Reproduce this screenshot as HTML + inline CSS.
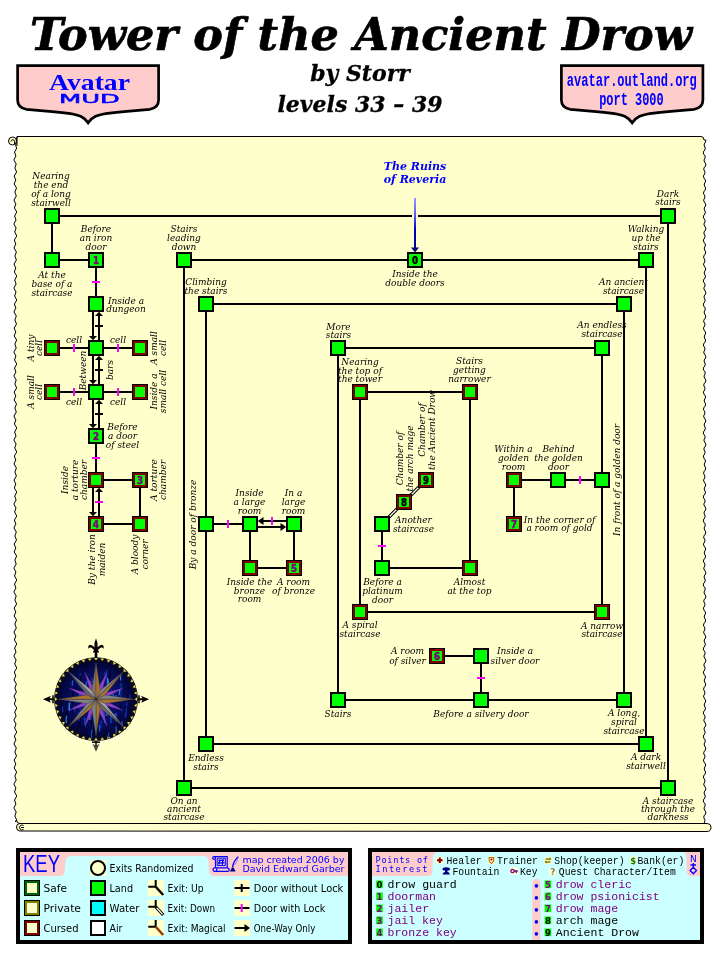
<!DOCTYPE html>
<html lang="en"><head><meta charset="utf-8"><title>Tower of the Ancient Drow</title>
<style>
html,body{margin:0;padding:0;background:#fff;}
body{width:720px;height:960px;overflow:hidden;position:relative;}
svg{position:absolute;left:0;top:0;display:block;will-change:transform;}
.lb{font-family:'DejaVu Serif','Liberation Serif',serif;font-style:italic;font-size:9px;fill:#000;text-anchor:middle;}
.ttl{font-family:'DejaVu Serif','Liberation Serif',serif;font-style:italic;font-weight:bold;fill:#000;text-anchor:middle;}
.dg{font-family:'DejaVu Sans','Liberation Sans',sans-serif;font-weight:bold;font-size:9.6px;text-anchor:middle;}
.ky{font-family:'Liberation Sans','DejaVu Sans',sans-serif;font-size:11px;fill:#000;}
.mono{font-family:'Liberation Mono','DejaVu Sans Mono',monospace;}
</style></head><body>
<svg width="720" height="960" viewBox="0 0 720 960">
<g id="header">
<text class="ttl" x="361" y="49.5" font-size="45" textLength="662" lengthAdjust="spacingAndGlyphs" stroke="#000" stroke-width="0.7">Tower of the Ancient Drow</text>
<text class="ttl" x="360" y="80.5" font-size="22" stroke="#000" stroke-width="0.3">by Storr</text>
<text class="ttl" x="360" y="111.5" font-size="22" stroke="#000" stroke-width="0.3">levels 33 – 39</text>
<path d="M17.6,65.6 L158.6,65.6 L158.6,100 Q158.6,108 149.6,109.3 L124.1,111.6 Q102.1,113.2 95.1,116.5 Q90.6,118.8 88.1,122.8 Q85.6,118.8 81.1,116.5 Q74.1,113.2 52.099999999999994,111.6 L26.6,109.3 Q17.6,108 17.6,100 Z" fill="#ffcccc" stroke="#000" stroke-width="2.7" stroke-linejoin="miter"/>
<path d="M561.4,65.6 L702.9,65.6 L702.9,100 Q702.9,108 693.9,109.3 L668.15,111.6 Q646.15,113.2 639.15,116.5 Q634.65,118.8 632.15,122.8 Q629.65,118.8 625.15,116.5 Q618.15,113.2 596.15,111.6 L570.4,109.3 Q561.4,108 561.4,100 Z" fill="#ffcccc" stroke="#000" stroke-width="2.7" stroke-linejoin="miter"/>
<text x="89.5" y="90" text-anchor="middle" font-family="'Liberation Serif',serif" font-weight="bold" font-size="24" fill="#0000ff" textLength="81" lengthAdjust="spacingAndGlyphs">Avatar</text>
<text x="89.5" y="103" text-anchor="middle" font-family="'DejaVu Sans','Liberation Sans',sans-serif" font-size="12" fill="#0000ff" stroke="#0000ff" stroke-width="0.45" textLength="61" lengthAdjust="spacingAndGlyphs">MUD</text>
<text class="mono" x="631.8" y="85.5" text-anchor="middle" font-weight="bold" font-size="18" fill="#0000ff" textLength="130" lengthAdjust="spacingAndGlyphs">avatar.outland.org</text>
<text class="mono" x="631.4" y="104.5" text-anchor="middle" font-weight="bold" font-size="18" fill="#0000ff" textLength="64.5" lengthAdjust="spacingAndGlyphs">port 3000</text>
</g>
<path d="M17,136.5 L701,136.5 Q704,136.5 704,140 L705.8,140.0 L705.6,142.0 L704.2,144.0 L704.3,146.0 L705.3,148.0 L704.8,150.0 L703.3,152.0 L703.6,154.0 L705.1,156.0 L705.1,158.0 L704.0,160.0 L704.5,162.0 L705.9,164.0 L705.5,166.0 L703.9,168.0 L703.9,170.0 L705.0,172.0 L704.6,174.0 L703.4,176.0 L703.9,178.0 L705.4,180.0 L705.4,182.0 L704.2,184.0 L704.5,186.0 L705.7,188.0 L705.2,190.0 L703.6,192.0 L703.7,194.0 L704.9,196.0 L704.7,198.0 L703.6,200.0 L704.2,202.0 L705.7,204.0 L705.6,206.0 L704.2,208.0 L704.4,210.0 L705.4,212.0 L704.9,214.0 L703.4,216.0 L703.6,218.0 L705.0,220.0 L705.0,222.0 L703.9,224.0 L704.5,226.0 L705.9,228.0 L705.5,230.0 L704.0,232.0 L704.1,234.0 L705.1,236.0 L704.7,238.0 L703.3,240.0 L703.8,242.0 L705.3,244.0 L705.3,246.0 L704.2,248.0 L704.6,250.0 L705.8,252.0 L705.3,254.0 L703.7,256.0 L703.8,258.0 L704.9,260.0 L704.7,262.0 L703.5,264.0 L704.1,266.0 L705.6,268.0 L705.5,270.0 L704.3,272.0 L704.4,274.0 L705.5,276.0 L705.0,278.0 L703.4,280.0 L703.6,282.0 L705.0,284.0 L704.9,286.0 L703.8,288.0 L704.4,290.0 L705.8,292.0 L705.6,294.0 L704.1,296.0 L704.2,298.0 L705.2,300.0 L704.7,302.0 L703.3,304.0 L703.7,306.0 L705.2,308.0 L705.2,310.0 L704.1,312.0 L704.6,314.0 L705.8,316.0 L705.4,318.0 L703.8,320.0 L703.8,322.0 L705.0,324.0 L704.6,326.0 L703.4,328.0 L704.0,330.0 L705.5,332.0 L705.5,334.0 L704.3,336.0 L704.5,338.0 L705.6,340.0 L705.1,342.0 L703.5,344.0 L703.6,346.0 L704.9,348.0 L704.8,350.0 L703.7,352.0 L704.3,354.0 L705.8,356.0 L705.6,358.0 L704.2,360.0 L704.3,362.0 L705.3,364.0 L704.8,366.0 L703.3,368.0 L703.6,370.0 L705.1,372.0 L705.1,374.0 L704.0,376.0 L704.5,378.0 L705.9,380.0 L705.5,382.0 L703.9,384.0 L703.9,386.0 L705.0,388.0 L704.6,390.0 L703.4,392.0 L703.9,394.0 L705.4,396.0 L705.4,398.0 L704.2,400.0 L704.5,402.0 L705.7,404.0 L705.2,406.0 L703.6,408.0 L703.7,410.0 L704.9,412.0 L704.7,414.0 L703.6,416.0 L704.2,418.0 L705.7,420.0 L705.6,422.0 L704.2,424.0 L704.4,426.0 L705.4,428.0 L704.9,430.0 L703.4,432.0 L703.6,434.0 L705.0,436.0 L705.0,438.0 L703.9,440.0 L704.5,442.0 L705.9,444.0 L705.5,446.0 L704.0,448.0 L704.1,450.0 L705.1,452.0 L704.7,454.0 L703.3,456.0 L703.8,458.0 L705.3,460.0 L705.3,462.0 L704.2,464.0 L704.6,466.0 L705.8,468.0 L705.3,470.0 L703.7,472.0 L703.8,474.0 L704.9,476.0 L704.7,478.0 L703.5,480.0 L704.1,482.0 L705.6,484.0 L705.5,486.0 L704.3,488.0 L704.4,490.0 L705.5,492.0 L705.0,494.0 L703.4,496.0 L703.6,498.0 L705.0,500.0 L704.9,502.0 L703.8,504.0 L704.4,506.0 L705.8,508.0 L705.6,510.0 L704.1,512.0 L704.2,514.0 L705.2,516.0 L704.7,518.0 L703.3,520.0 L703.7,522.0 L705.2,524.0 L705.2,526.0 L704.1,528.0 L704.6,530.0 L705.8,532.0 L705.4,534.0 L703.8,536.0 L703.8,538.0 L705.0,540.0 L704.6,542.0 L703.4,544.0 L704.0,546.0 L705.5,548.0 L705.5,550.0 L704.3,552.0 L704.5,554.0 L705.6,556.0 L705.1,558.0 L703.5,560.0 L703.6,562.0 L704.9,564.0 L704.8,566.0 L703.7,568.0 L704.3,570.0 L705.8,572.0 L705.6,574.0 L704.2,576.0 L704.3,578.0 L705.3,580.0 L704.8,582.0 L703.3,584.0 L703.6,586.0 L705.1,588.0 L705.1,590.0 L704.0,592.0 L704.5,594.0 L705.9,596.0 L705.5,598.0 L703.9,600.0 L703.9,602.0 L705.0,604.0 L704.6,606.0 L703.4,608.0 L703.9,610.0 L705.4,612.0 L705.4,614.0 L704.2,616.0 L704.5,618.0 L705.7,620.0 L705.2,622.0 L703.6,624.0 L703.7,626.0 L704.9,628.0 L704.7,630.0 L703.6,632.0 L704.2,634.0 L705.7,636.0 L705.6,638.0 L704.2,640.0 L704.4,642.0 L705.4,644.0 L704.9,646.0 L703.4,648.0 L703.6,650.0 L705.0,652.0 L705.0,654.0 L703.9,656.0 L704.5,658.0 L705.9,660.0 L705.5,662.0 L704.0,664.0 L704.1,666.0 L705.1,668.0 L704.7,670.0 L703.3,672.0 L703.8,674.0 L705.3,676.0 L705.3,678.0 L704.2,680.0 L704.6,682.0 L705.8,684.0 L705.3,686.0 L703.7,688.0 L703.8,690.0 L704.9,692.0 L704.7,694.0 L703.5,696.0 L704.1,698.0 L705.6,700.0 L705.5,702.0 L704.3,704.0 L704.4,706.0 L705.5,708.0 L705.0,710.0 L703.4,712.0 L703.6,714.0 L705.0,716.0 L704.9,718.0 L703.8,720.0 L704.4,722.0 L705.8,724.0 L705.6,726.0 L704.1,728.0 L704.2,730.0 L705.2,732.0 L704.7,734.0 L703.3,736.0 L703.7,738.0 L705.2,740.0 L705.2,742.0 L704.1,744.0 L704.6,746.0 L705.8,748.0 L705.4,750.0 L703.8,752.0 L703.8,754.0 L705.0,756.0 L704.6,758.0 L703.4,760.0 L704.0,762.0 L705.5,764.0 L705.5,766.0 L704.3,768.0 L704.5,770.0 L705.6,772.0 L705.1,774.0 L703.5,776.0 L703.6,778.0 L704.9,780.0 L704.8,782.0 L703.7,784.0 L704.3,786.0 L705.8,788.0 L705.6,790.0 L704.2,792.0 L704.3,794.0 L705.3,796.0 L704.8,798.0 L703.3,800.0 L703.6,802.0 L705.1,804.0 L705.1,806.0 L704.0,808.0 L704.5,810.0 L705.9,812.0 L705.5,814.0 L703.9,816.0 L703.9,818.0 L705.0,820.0 L704.6,822.0 L704,823.5 L20,823.5 Q16.5,823.5 16.5,820 L15.4,822.0 L16.6,820.0 L15.8,818.0 L14.8,816.0 L15.5,814.0 L16.2,812.0 L15.0,810.0 L13.9,808.0 L14.8,806.0 L15.9,804.0 L15.2,802.0 L14.5,800.0 L15.7,798.0 L16.7,796.0 L15.7,794.0 L14.5,792.0 L15.2,790.0 L15.9,788.0 L14.8,786.0 L13.9,784.0 L15.0,782.0 L16.2,780.0 L15.5,778.0 L14.8,776.0 L15.8,774.0 L16.6,772.0 L15.4,770.0 L14.2,768.0 L14.9,766.0 L15.8,764.0 L14.9,762.0 L14.1,760.0 L15.3,758.0 L16.5,756.0 L15.7,754.0 L14.8,752.0 L15.6,750.0 L16.3,748.0 L15.1,746.0 L14.0,744.0 L14.8,742.0 L15.9,740.0 L15.1,738.0 L14.4,736.0 L15.6,734.0 L16.7,732.0 L15.7,730.0 L14.6,728.0 L15.3,726.0 L16.0,724.0 L14.9,722.0 L13.9,720.0 L14.9,718.0 L16.1,716.0 L15.4,714.0 L14.7,712.0 L15.8,710.0 L16.7,708.0 L15.5,706.0 L14.3,704.0 L15.0,702.0 L15.8,700.0 L14.8,698.0 L14.0,696.0 L15.2,694.0 L16.4,692.0 L15.7,690.0 L14.8,688.0 L15.7,686.0 L16.4,684.0 L15.2,682.0 L14.0,680.0 L14.8,678.0 L15.8,676.0 L15.0,674.0 L14.3,672.0 L15.5,670.0 L16.7,668.0 L15.8,666.0 L14.7,664.0 L15.4,662.0 L16.1,660.0 L14.9,658.0 L13.9,656.0 L14.9,654.0 L16.0,652.0 L15.3,650.0 L14.6,648.0 L15.7,646.0 L16.7,644.0 L15.6,642.0 L14.4,640.0 L15.1,638.0 L15.9,636.0 L14.8,634.0 L14.0,632.0 L15.1,630.0 L16.3,628.0 L15.6,626.0 L14.8,624.0 L15.7,622.0 L16.5,620.0 L15.3,618.0 L14.1,616.0 L14.9,614.0 L15.8,612.0 L14.9,610.0 L14.2,608.0 L15.4,606.0 L16.6,604.0 L15.8,602.0 L14.8,600.0 L15.5,598.0 L16.2,596.0 L15.0,594.0 L13.9,592.0 L14.8,590.0 L15.9,588.0 L15.2,586.0 L14.5,584.0 L15.7,582.0 L16.7,580.0 L15.7,578.0 L14.5,576.0 L15.2,574.0 L15.9,572.0 L14.8,570.0 L13.9,568.0 L15.0,566.0 L16.2,564.0 L15.5,562.0 L14.8,560.0 L15.8,558.0 L16.6,556.0 L15.4,554.0 L14.2,552.0 L14.9,550.0 L15.8,548.0 L14.9,546.0 L14.1,544.0 L15.3,542.0 L16.5,540.0 L15.7,538.0 L14.8,536.0 L15.6,534.0 L16.3,532.0 L15.1,530.0 L14.0,528.0 L14.8,526.0 L15.9,524.0 L15.1,522.0 L14.4,520.0 L15.6,518.0 L16.7,516.0 L15.7,514.0 L14.6,512.0 L15.3,510.0 L16.0,508.0 L14.9,506.0 L13.9,504.0 L14.9,502.0 L16.1,500.0 L15.4,498.0 L14.7,496.0 L15.8,494.0 L16.7,492.0 L15.5,490.0 L14.3,488.0 L15.0,486.0 L15.8,484.0 L14.8,482.0 L14.0,480.0 L15.2,478.0 L16.4,476.0 L15.7,474.0 L14.8,472.0 L15.7,470.0 L16.4,468.0 L15.2,466.0 L14.0,464.0 L14.8,462.0 L15.8,460.0 L15.0,458.0 L14.3,456.0 L15.5,454.0 L16.7,452.0 L15.8,450.0 L14.7,448.0 L15.4,446.0 L16.1,444.0 L14.9,442.0 L13.9,440.0 L14.9,438.0 L16.0,436.0 L15.3,434.0 L14.6,432.0 L15.7,430.0 L16.7,428.0 L15.6,426.0 L14.4,424.0 L15.1,422.0 L15.9,420.0 L14.8,418.0 L14.0,416.0 L15.1,414.0 L16.3,412.0 L15.6,410.0 L14.8,408.0 L15.7,406.0 L16.5,404.0 L15.3,402.0 L14.1,400.0 L14.9,398.0 L15.8,396.0 L14.9,394.0 L14.2,392.0 L15.4,390.0 L16.6,388.0 L15.8,386.0 L14.8,384.0 L15.5,382.0 L16.2,380.0 L15.0,378.0 L13.9,376.0 L14.8,374.0 L15.9,372.0 L15.2,370.0 L14.5,368.0 L15.7,366.0 L16.7,364.0 L15.7,362.0 L14.5,360.0 L15.2,358.0 L15.9,356.0 L14.8,354.0 L13.9,352.0 L15.0,350.0 L16.2,348.0 L15.5,346.0 L14.8,344.0 L15.8,342.0 L16.6,340.0 L15.4,338.0 L14.2,336.0 L14.9,334.0 L15.8,332.0 L14.9,330.0 L14.1,328.0 L15.3,326.0 L16.5,324.0 L15.7,322.0 L14.8,320.0 L15.6,318.0 L16.3,316.0 L15.1,314.0 L14.0,312.0 L14.8,310.0 L15.9,308.0 L15.1,306.0 L14.4,304.0 L15.6,302.0 L16.7,300.0 L15.7,298.0 L14.6,296.0 L15.3,294.0 L16.0,292.0 L14.9,290.0 L13.9,288.0 L14.9,286.0 L16.1,284.0 L15.4,282.0 L14.7,280.0 L15.8,278.0 L16.7,276.0 L15.5,274.0 L14.3,272.0 L15.0,270.0 L15.8,268.0 L14.8,266.0 L14.0,264.0 L15.2,262.0 L16.4,260.0 L15.7,258.0 L14.8,256.0 L15.7,254.0 L16.4,252.0 L15.2,250.0 L14.0,248.0 L14.8,246.0 L15.8,244.0 L15.0,242.0 L14.3,240.0 L15.5,238.0 L16.7,236.0 L15.8,234.0 L14.7,232.0 L15.4,230.0 L16.1,228.0 L14.9,226.0 L13.9,224.0 L14.9,222.0 L16.0,220.0 L15.3,218.0 L14.6,216.0 L15.7,214.0 L16.7,212.0 L15.6,210.0 L14.4,208.0 L15.1,206.0 L15.9,204.0 L14.8,202.0 L14.0,200.0 L15.1,198.0 L16.3,196.0 L15.6,194.0 L14.8,192.0 L15.7,190.0 L16.5,188.0 L15.3,186.0 L14.1,184.0 L14.9,182.0 L15.8,180.0 L14.9,178.0 L14.2,176.0 L15.4,174.0 L16.6,172.0 L15.8,170.0 L14.8,168.0 L15.5,166.0 L16.2,164.0 L15.0,162.0 L13.9,160.0 L14.8,158.0 L15.9,156.0 L15.2,154.0 L14.5,152.0 L15.7,150.0 L16.7,148.0 L15.7,146.0 L17,136.5 Z" fill="#ffffcc" stroke="#000" stroke-width="1"/>
<path d="M20,823.5 L707,823.5 Q711,823.5 711,827.2 Q711,831.5 707,831.5 L20,831 Q16.5,831 16.5,827 Q16.5,823.5 20,823.5 Z" fill="#ffffcc" stroke="#000" stroke-width="1"/>
<path d="M24,827.5 L21,827.5 M23.5,825.5 A2.5,2.5 0 1 0 23.5,829.5" fill="none" stroke="#000" stroke-width="1"/>
<circle cx="12.5" cy="141" r="4" fill="#ffffcc" stroke="#000" stroke-width="1"/>
<path d="M17,137 L17,146" stroke="#000" stroke-width="1" fill="none"/>
<path d="M11,141.5 A1.7,1.7 0 1 1 14.5,141.5 L14.5,144" fill="none" stroke="#000" stroke-width="1"/>
<g id="lines" stroke="#000" stroke-width="2" fill="none" stroke-linecap="butt">
<path d="M52,216 L668,216" />
<path d="M52,216 L52,260" />
<path d="M52,260 L96,260" />
<path d="M96,260 L96,304" />
<path d="M52,348 L140,348" />
<path d="M52,392 L140,392" />
<path d="M96,436 L96,480" />
<path d="M96,480 L140,480" />
<path d="M140,480 L140,524" />
<path d="M96,524 L140,524" />
<path d="M184,260 L646,260" />
<path d="M184,260 L184,788" />
<path d="M184,788 L668,788" />
<path d="M668,216 L668,788" />
<path d="M206,304 L624,304" />
<path d="M206,304 L206,744" />
<path d="M206,744 L646,744" />
<path d="M646,260 L646,744" />
<path d="M206,524 L250,524" />
<path d="M250,524 L250,568" />
<path d="M294,524 L294,568" />
<path d="M250,568 L294,568" />
<path d="M338,348 L602,348" />
<path d="M338,348 L338,700" />
<path d="M338,700 L624,700" />
<path d="M624,304 L624,700" />
<path d="M360,392 L470,392" />
<path d="M360,392 L360,612" />
<path d="M470,392 L470,568" />
<path d="M382,568 L470,568" />
<path d="M382,524 L382,568" />
<path d="M360,612 L602,612" />
<path d="M602,348 L602,612" />
<path d="M514,480 L602,480" />
<path d="M514,480 L514,524" />
<path d="M437,656 L481,656" />
<path d="M481,656 L481,700" />
</g>
<path d="M93,312 L93,337" stroke="#000" stroke-width="2" fill="none"/>
<path d="M89,336 L97,336 L93,340.3 Z" fill="#000"/>
<path d="M99,315 L99,340" stroke="#000" stroke-width="2" fill="none"/>
<path d="M95,316 L103,316 L99,311.7 Z" fill="#000"/>
<rect x="95" y="325.0" width="8" height="2" fill="#000"/>
<path d="M93,356 L93,381" stroke="#000" stroke-width="2" fill="none"/>
<path d="M89,380 L97,380 L93,384.3 Z" fill="#000"/>
<path d="M99,359 L99,384" stroke="#000" stroke-width="2" fill="none"/>
<path d="M95,360 L103,360 L99,355.7 Z" fill="#000"/>
<rect x="95" y="369.0" width="8" height="2" fill="#000"/>
<path d="M93,400 L93,425" stroke="#000" stroke-width="2" fill="none"/>
<path d="M89,424 L97,424 L93,428.3 Z" fill="#000"/>
<path d="M99,403 L99,428" stroke="#000" stroke-width="2" fill="none"/>
<path d="M95,404 L103,404 L99,399.7 Z" fill="#000"/>
<rect x="95" y="413.0" width="8" height="2" fill="#000"/>
<path d="M93,488 L93,513" stroke="#000" stroke-width="2" fill="none"/>
<path d="M89,512 L97,512 L93,516.3 Z" fill="#000"/>
<path d="M99,491 L99,516" stroke="#000" stroke-width="2" fill="none"/>
<path d="M95,492 L103,492 L99,487.7 Z" fill="#000"/>
<rect x="95" y="501" width="8" height="2" fill="#ff00ff"/>
<path d="M261,521 L286,521" stroke="#000" stroke-width="2" fill="none"/>
<path d="M263.5,517 L263.5,525 L257.8,521 Z" fill="#000"/>
<path d="M258,527 L283,527" stroke="#000" stroke-width="2" fill="none"/>
<path d="M280.5,523 L280.5,531 L286.2,527 Z" fill="#000"/>
<rect x="271" y="517" width="2" height="8" fill="#ff00ff"/>
<rect x="92" y="281" width="8" height="2" fill="#ff00ff"/>
<rect x="92" y="457" width="8" height="2" fill="#ff00ff"/>
<rect x="378" y="545" width="8" height="2" fill="#ff00ff"/>
<rect x="477" y="677" width="8" height="2" fill="#ff00ff"/>
<rect x="73" y="344" width="2" height="8" fill="#ff00ff"/>
<rect x="117" y="344" width="2" height="8" fill="#ff00ff"/>
<rect x="73" y="388" width="2" height="8" fill="#ff00ff"/>
<rect x="117" y="388" width="2" height="8" fill="#ff00ff"/>
<rect x="227" y="520" width="2" height="8" fill="#ff00ff"/>
<rect x="579" y="476" width="2" height="8" fill="#ff00ff"/>
<path d="M382,524 L404,502" stroke="#000" stroke-width="3.4" fill="none"/>
<path d="M389,517 L397,509" stroke="#fff" stroke-width="1.2" fill="none"/>
<path d="M404,502 L426,480" stroke="#000" stroke-width="3.4" fill="none"/>
<path d="M411,495 L419,487" stroke="#fff" stroke-width="1.2" fill="none"/>
<defs><linearGradient id="bl" x1="0" y1="0" x2="0" y2="1"><stop offset="0" stop-color="#9999ff"/><stop offset="0.35" stop-color="#5555ee"/><stop offset="0.6" stop-color="#0000cc"/><stop offset="1" stop-color="#000080"/></linearGradient></defs>
<rect x="412" y="213" width="6" height="6" fill="#ffffcc"/>
<rect x="414" y="198" width="2" height="52" fill="url(#bl)"/>
<path d="M411,247.5 L419,247.5 L415,252.5 Z" fill="#000080"/>
<g id="nodes">
<rect x="45" y="209" width="14" height="14" fill="#00ff00" stroke="#000" stroke-width="2"/>
<rect x="45" y="253" width="14" height="14" fill="#00ff00" stroke="#000" stroke-width="2"/>
<rect x="89" y="253" width="14" height="14" fill="#00ff00" stroke="#000" stroke-width="2"/>
<text class="dg" x="96" y="263.5" fill="#800080" stroke="#800080" stroke-width="0.5" textLength="6" lengthAdjust="spacingAndGlyphs">1</text>
<rect x="89" y="297" width="14" height="14" fill="#00ff00" stroke="#000" stroke-width="2"/>
<rect x="89" y="341" width="14" height="14" fill="#00ff00" stroke="#000" stroke-width="2"/>
<rect x="44" y="340" width="16" height="16" fill="#000"/><rect x="45" y="341" width="14" height="14" fill="#800000"/><rect x="47" y="343" width="10" height="10" fill="#00ff00"/>
<rect x="132" y="340" width="16" height="16" fill="#000"/><rect x="133" y="341" width="14" height="14" fill="#800000"/><rect x="135" y="343" width="10" height="10" fill="#00ff00"/>
<rect x="89" y="385" width="14" height="14" fill="#00ff00" stroke="#000" stroke-width="2"/>
<rect x="44" y="384" width="16" height="16" fill="#000"/><rect x="45" y="385" width="14" height="14" fill="#800000"/><rect x="47" y="387" width="10" height="10" fill="#00ff00"/>
<rect x="132" y="384" width="16" height="16" fill="#000"/><rect x="133" y="385" width="14" height="14" fill="#800000"/><rect x="135" y="387" width="10" height="10" fill="#00ff00"/>
<rect x="89" y="429" width="14" height="14" fill="#00ff00" stroke="#000" stroke-width="2"/>
<text class="dg" x="96" y="439.5" fill="#800080" stroke="#800080" stroke-width="0.5" textLength="6" lengthAdjust="spacingAndGlyphs">2</text>
<rect x="88" y="472" width="16" height="16" fill="#000"/><rect x="89" y="473" width="14" height="14" fill="#800000"/><rect x="91" y="475" width="10" height="10" fill="#00ff00"/>
<rect x="132" y="472" width="16" height="16" fill="#000"/><rect x="133" y="473" width="14" height="14" fill="#800000"/><rect x="135" y="475" width="10" height="10" fill="#00ff00"/>
<text class="dg" x="140" y="483.5" fill="#800080" stroke="#800080" stroke-width="0.5" textLength="6" lengthAdjust="spacingAndGlyphs">3</text>
<rect x="88" y="516" width="16" height="16" fill="#000"/><rect x="89" y="517" width="14" height="14" fill="#800000"/><rect x="91" y="519" width="10" height="10" fill="#00ff00"/>
<text class="dg" x="96" y="527.5" fill="#800080" stroke="#800080" stroke-width="0.5" textLength="6" lengthAdjust="spacingAndGlyphs">4</text>
<rect x="132" y="516" width="16" height="16" fill="#000"/><rect x="133" y="517" width="14" height="14" fill="#800000"/><rect x="135" y="519" width="10" height="10" fill="#00ff00"/>
<rect x="177" y="253" width="14" height="14" fill="#00ff00" stroke="#000" stroke-width="2"/>
<rect x="199" y="297" width="14" height="14" fill="#00ff00" stroke="#000" stroke-width="2"/>
<rect x="199" y="517" width="14" height="14" fill="#00ff00" stroke="#000" stroke-width="2"/>
<rect x="199" y="737" width="14" height="14" fill="#00ff00" stroke="#000" stroke-width="2"/>
<rect x="177" y="781" width="14" height="14" fill="#00ff00" stroke="#000" stroke-width="2"/>
<rect x="243" y="517" width="14" height="14" fill="#00ff00" stroke="#000" stroke-width="2"/>
<rect x="287" y="517" width="14" height="14" fill="#00ff00" stroke="#000" stroke-width="2"/>
<rect x="242" y="560" width="16" height="16" fill="#000"/><rect x="243" y="561" width="14" height="14" fill="#800000"/><rect x="245" y="563" width="10" height="10" fill="#00ff00"/>
<rect x="286" y="560" width="16" height="16" fill="#000"/><rect x="287" y="561" width="14" height="14" fill="#800000"/><rect x="289" y="563" width="10" height="10" fill="#00ff00"/>
<text class="dg" x="294" y="571.5" fill="#800080" stroke="#800080" stroke-width="0.5" textLength="6" lengthAdjust="spacingAndGlyphs">5</text>
<rect x="331" y="341" width="14" height="14" fill="#00ff00" stroke="#000" stroke-width="2"/>
<rect x="352" y="384" width="16" height="16" fill="#000"/><rect x="353" y="385" width="14" height="14" fill="#800000"/><rect x="355" y="387" width="10" height="10" fill="#00ff00"/>
<rect x="462" y="384" width="16" height="16" fill="#000"/><rect x="463" y="385" width="14" height="14" fill="#800000"/><rect x="465" y="387" width="10" height="10" fill="#00ff00"/>
<rect x="375" y="517" width="14" height="14" fill="#00ff00" stroke="#000" stroke-width="2"/>
<rect x="375" y="561" width="14" height="14" fill="#00ff00" stroke="#000" stroke-width="2"/>
<rect x="462" y="560" width="16" height="16" fill="#000"/><rect x="463" y="561" width="14" height="14" fill="#800000"/><rect x="465" y="563" width="10" height="10" fill="#00ff00"/>
<rect x="396" y="494" width="16" height="16" fill="#000"/><rect x="397" y="495" width="14" height="14" fill="#800000"/><rect x="399" y="497" width="10" height="10" fill="#00ff00"/>
<text class="dg" x="404" y="505.5" fill="#000" stroke="#000" stroke-width="0.5" textLength="6" lengthAdjust="spacingAndGlyphs">8</text>
<rect x="418" y="472" width="16" height="16" fill="#000"/><rect x="419" y="473" width="14" height="14" fill="#800000"/><rect x="421" y="475" width="10" height="10" fill="#00ff00"/>
<text class="dg" x="426" y="483.5" fill="#000" stroke="#000" stroke-width="0.5" textLength="6" lengthAdjust="spacingAndGlyphs">9</text>
<rect x="352" y="604" width="16" height="16" fill="#000"/><rect x="353" y="605" width="14" height="14" fill="#800000"/><rect x="355" y="607" width="10" height="10" fill="#00ff00"/>
<rect x="331" y="693" width="14" height="14" fill="#00ff00" stroke="#000" stroke-width="2"/>
<rect x="429" y="648" width="16" height="16" fill="#000"/><rect x="430" y="649" width="14" height="14" fill="#800000"/><rect x="432" y="651" width="10" height="10" fill="#00ff00"/>
<text class="dg" x="437" y="659.5" fill="#800080" stroke="#800080" stroke-width="0.5" textLength="6" lengthAdjust="spacingAndGlyphs">6</text>
<rect x="474" y="649" width="14" height="14" fill="#00ff00" stroke="#000" stroke-width="2"/>
<rect x="474" y="693" width="14" height="14" fill="#00ff00" stroke="#000" stroke-width="2"/>
<rect x="617" y="693" width="14" height="14" fill="#00ff00" stroke="#000" stroke-width="2"/>
<rect x="506" y="472" width="16" height="16" fill="#000"/><rect x="507" y="473" width="14" height="14" fill="#800000"/><rect x="509" y="475" width="10" height="10" fill="#00ff00"/>
<rect x="551" y="473" width="14" height="14" fill="#00ff00" stroke="#000" stroke-width="2"/>
<rect x="595" y="473" width="14" height="14" fill="#00ff00" stroke="#000" stroke-width="2"/>
<rect x="506" y="516" width="16" height="16" fill="#000"/><rect x="507" y="517" width="14" height="14" fill="#800000"/><rect x="509" y="519" width="10" height="10" fill="#00ff00"/>
<text class="dg" x="514" y="527.5" fill="#800080" stroke="#800080" stroke-width="0.5" textLength="6" lengthAdjust="spacingAndGlyphs">7</text>
<rect x="594" y="604" width="16" height="16" fill="#000"/><rect x="595" y="605" width="14" height="14" fill="#800000"/><rect x="597" y="607" width="10" height="10" fill="#00ff00"/>
<rect x="595" y="341" width="14" height="14" fill="#00ff00" stroke="#000" stroke-width="2"/>
<rect x="617" y="297" width="14" height="14" fill="#00ff00" stroke="#000" stroke-width="2"/>
<rect x="639" y="253" width="14" height="14" fill="#00ff00" stroke="#000" stroke-width="2"/>
<rect x="661" y="209" width="14" height="14" fill="#00ff00" stroke="#000" stroke-width="2"/>
<rect x="639" y="737" width="14" height="14" fill="#00ff00" stroke="#000" stroke-width="2"/>
<rect x="661" y="781" width="14" height="14" fill="#00ff00" stroke="#000" stroke-width="2"/>
<rect x="408" y="253" width="14" height="14" fill="#00ff00" stroke="#000" stroke-width="2"/>
<text class="dg" x="415" y="263.5" fill="#000" stroke="#000" stroke-width="0.5" textLength="6" lengthAdjust="spacingAndGlyphs">0</text>
</g>
<g id="labels">
<text class="lb" x="51" y="179" >Nearing</text>
<text class="lb" x="51" y="188" >the end</text>
<text class="lb" x="51" y="197" >of a long</text>
<text class="lb" x="51" y="205.5" >stairwell</text>
<text class="lb" x="52" y="278" >At the</text>
<text class="lb" x="52" y="287" >base of a</text>
<text class="lb" x="52" y="296" >staircase</text>
<text class="lb" x="96" y="232" >Before</text>
<text class="lb" x="96" y="241" >an iron</text>
<text class="lb" x="96" y="249.5" >door</text>
<text class="lb" x="126" y="303.5" >Inside a</text>
<text class="lb" x="126" y="312" >dungeon</text>
<text class="lb" x="184" y="231.5" >Stairs</text>
<text class="lb" x="184" y="240.5" >leading</text>
<text class="lb" x="184" y="249.5" >down</text>
<text class="lb" x="206" y="285" >Climbing</text>
<text class="lb" x="206" y="294" >the stairs</text>
<text class="lb" x="74" y="342.5" >cell</text>
<text class="lb" x="118" y="342.5" >cell</text>
<text class="lb" x="74" y="405" >cell</text>
<text class="lb" x="118" y="405" >cell</text>
<text class="lb" transform="translate(33.5,348) rotate(-90)" x="0" y="0">A tiny</text>
<text class="lb" transform="translate(41.8,348) rotate(-90)" x="0" y="0">cell</text>
<text class="lb" transform="translate(33.5,392) rotate(-90)" x="0" y="0">A small</text>
<text class="lb" transform="translate(41.8,392) rotate(-90)" x="0" y="0">cell</text>
<text class="lb" transform="translate(156.5,348) rotate(-90)" x="0" y="0">A small</text>
<text class="lb" transform="translate(165.5,348) rotate(-90)" x="0" y="0">cell</text>
<text class="lb" transform="translate(156.5,391.5) rotate(-90)" x="0" y="0">Inside a</text>
<text class="lb" transform="translate(165.5,391.5) rotate(-90)" x="0" y="0">small cell</text>
<text class="lb" transform="translate(86,370.5) rotate(-90)" x="0" y="0">Between</text>
<text class="lb" transform="translate(112.7,370) rotate(-90)" x="0" y="0">bars</text>
<text class="lb" x="122.5" y="430" >Before</text>
<text class="lb" x="122.5" y="438.5" >a door</text>
<text class="lb" x="122.5" y="447.5" >of steel</text>
<text class="lb" transform="translate(68,480) rotate(-90)" x="0" y="0">Inside</text>
<text class="lb" transform="translate(78,480) rotate(-90)" x="0" y="0">a torture</text>
<text class="lb" transform="translate(86.5,480) rotate(-90)" x="0" y="0">chamber</text>
<text class="lb" transform="translate(156.5,480) rotate(-90)" x="0" y="0">A torture</text>
<text class="lb" transform="translate(165.5,480) rotate(-90)" x="0" y="0">chamber</text>
<text class="lb" transform="translate(94.8,559.5) rotate(-90)" x="0" y="0">By the iron</text>
<text class="lb" transform="translate(105,559.5) rotate(-90)" x="0" y="0">maiden</text>
<text class="lb" transform="translate(138.3,554.5) rotate(-90)" x="0" y="0">A bloody</text>
<text class="lb" transform="translate(148,554.5) rotate(-90)" x="0" y="0">corner</text>
<text class="lb" transform="translate(196,524.5) rotate(-90)" x="0" y="0">By a door of bronze</text>
<text class="lb" x="338.5" y="329.5" >More</text>
<text class="lb" x="338.5" y="338" >stairs</text>
<text class="lb" x="360" y="364.5" >Nearing</text>
<text class="lb" x="360" y="373.5" >the top of</text>
<text class="lb" x="360" y="382" >the tower</text>
<text class="lb" x="249.5" y="496" >Inside</text>
<text class="lb" x="249.5" y="505" >a large</text>
<text class="lb" x="249.5" y="513.5" >room</text>
<text class="lb" x="293.5" y="496" >In a</text>
<text class="lb" x="293.5" y="505" >large</text>
<text class="lb" x="293.5" y="513.5" >room</text>
<text class="lb" x="469.5" y="364" >Stairs</text>
<text class="lb" x="469.5" y="373" >getting</text>
<text class="lb" x="469.5" y="382" >narrower</text>
<text class="lb" transform="translate(402.5,458.5) rotate(-90)" x="0" y="0">Chamber of</text>
<text class="lb" transform="translate(412.5,458.5) rotate(-90)" x="0" y="0">the arch mage</text>
<text class="lb" transform="translate(425,430) rotate(-90)" x="0" y="0">Chamber of</text>
<text class="lb" transform="translate(434.5,430) rotate(-90)" x="0" y="0">the Ancient Drow</text>
<text class="lb" x="413.5" y="523" >Another</text>
<text class="lb" x="413.5" y="532" >staircase</text>
<text class="lb" x="382.5" y="585" >Before a</text>
<text class="lb" x="382.5" y="593.5" >platinum</text>
<text class="lb" x="382.5" y="602.5" >door</text>
<text class="lb" x="469.5" y="585" >Almost</text>
<text class="lb" x="469.5" y="594" >at the top</text>
<text class="lb" x="513.5" y="451.5" >Within a</text>
<text class="lb" x="513.5" y="460.5" >golden</text>
<text class="lb" x="513.5" y="469.5" >room</text>
<text class="lb" x="558.5" y="451.5" >Behind</text>
<text class="lb" x="558.5" y="460.5" >the golden</text>
<text class="lb" x="558.5" y="469.5" >door</text>
<text class="lb" x="559.5" y="522.5" >In the corner of</text>
<text class="lb" x="559.5" y="531" >a room of gold</text>
<text class="lb" transform="translate(619.5,480) rotate(-90)" x="0" y="0">In front of a golden door</text>
<text class="lb" x="602" y="628.5" >A narrow</text>
<text class="lb" x="602" y="637" >staircase</text>
<text class="lb" x="515" y="654" >Inside a</text>
<text class="lb" x="515" y="663.5" >silver door</text>
<text class="lb" x="481" y="716.5" >Before a silvery door</text>
<text class="lb" x="338" y="716.5" >Stairs</text>
<text class="lb" x="407.5" y="654" >A room</text>
<text class="lb" x="407.5" y="663.5" >of silver</text>
<text class="lb" x="360" y="628" >A spiral</text>
<text class="lb" x="360" y="637" >staircase</text>
<text class="lb" x="249.5" y="584.5" >Inside the</text>
<text class="lb" x="249.5" y="593.5" >bronze</text>
<text class="lb" x="249.5" y="602" >room</text>
<text class="lb" x="293.5" y="584.5" >A room</text>
<text class="lb" x="293.5" y="593.5" >of bronze</text>
<text class="lb" x="206" y="760.5" >Endless</text>
<text class="lb" x="206" y="769.5" >stairs</text>
<text class="lb" x="184" y="804" >On an</text>
<text class="lb" x="184" y="812" >ancient</text>
<text class="lb" x="184" y="820" >staircase</text>
<text class="lb" x="624" y="716" >A long,</text>
<text class="lb" x="624" y="725" >spiral</text>
<text class="lb" x="624" y="733.5" >staircase</text>
<text class="lb" x="646" y="760" >A dark</text>
<text class="lb" x="646" y="768.5" >stairwell</text>
<text class="lb" x="668" y="804" >A staircase</text>
<text class="lb" x="668" y="812" >through the</text>
<text class="lb" x="668" y="820" >darkness</text>
<text class="lb" x="668" y="196.5" >Dark</text>
<text class="lb" x="668" y="205" >stairs</text>
<text class="lb" x="646" y="231.5" >Walking</text>
<text class="lb" x="646" y="240.5" >up the</text>
<text class="lb" x="646" y="249.5" >stairs</text>
<text class="lb" x="623.5" y="285" >An ancient</text>
<text class="lb" x="623.5" y="294" >staircase</text>
<text class="lb" x="602" y="328" >An endless</text>
<text class="lb" x="602" y="337" >staircase</text>
<text class="lb" x="415" y="277" >Inside the</text>
<text class="lb" x="415" y="285.5" >double doors</text>
<text x="415" y="169.5" text-anchor="middle" font-family="'DejaVu Serif','Liberation Serif',serif" font-style="italic" font-weight="bold" font-size="11" fill="#0000ff">The Ruins</text>
<text x="415" y="182.5" text-anchor="middle" font-family="'DejaVu Serif','Liberation Serif',serif" font-style="italic" font-weight="bold" font-size="11" fill="#0000ff">of Reveria</text>
</g>
<g id="compass" transform="translate(96,699.2)">
<defs><radialGradient id="cg" cx="0.5" cy="0.5" r="0.5"><stop offset="0" stop-color="#0c1878"/><stop offset="0.7" stop-color="#060c5c"/><stop offset="1" stop-color="#020430"/></radialGradient></defs>
<path d="M0,-61 Q2.2,-56 1.6,-52 Q3.5,-54.5 6,-54.5 Q8.2,-54 7.6,-50.5 Q6.5,-52.2 4.5,-51.5 Q2,-50.5 1.3,-47 L1.3,-40 L-1.3,-40 L-1.3,-47 Q-2,-50.5 -4.5,-51.5 Q-6.5,-52.2 -7.6,-50.5 Q-8.2,-54 -6,-54.5 Q-3.5,-54.5 -1.6,-52 Q-2.2,-56 0,-61 Z" fill="#000"/>
<path d="M-3,-47.5 L3,-47.5" stroke="#000" stroke-width="1.5"/>
<path d="M40,-1 L46.5,-1 L45,-3.5 L53,0 L45,3.5 L46.5,1 L40,1 Z" fill="#000"/>
<path d="M-40,-1 L-46.5,-1 L-45,-3.5 L-53,0 L-45,3.5 L-46.5,1 L-40,1 Z" fill="#000"/>
<path d="M-1,40 L-1,46 L-3.5,44.5 L0,52.5 L3.5,44.5 L1,46 L1,40 Z" fill="#444"/>
<path d="M-4,43 L4,43" stroke="#000" stroke-width="1.5"/>
<path d="M43,-4 L43,4 M-43,-4 L-43,4" stroke="#000" stroke-width="1.5"/>
<circle r="42" fill="#0a0a20"/>
<path d="M41.2,-1.9 L41.2,1.9 L38.6,0.0 Z" fill="#e8d84a"/>
<path d="M40.9,4.6 L40.4,8.3 L38.1,6.0 Z" fill="#e8d84a"/>
<path d="M39.7,11.0 L38.6,14.5 L36.7,11.9 Z" fill="#e8d84a"/>
<path d="M37.5,17.0 L35.8,20.3 L34.4,17.5 Z" fill="#e8d84a"/>
<path d="M34.4,22.7 L32.2,25.7 L31.2,22.7 Z" fill="#e8d84a"/>
<path d="M30.4,27.8 L27.8,30.4 L27.3,27.3 Z" fill="#e8d84a"/>
<path d="M25.7,32.2 L22.7,34.4 L22.7,31.2 Z" fill="#e8d84a"/>
<path d="M20.3,35.8 L17.0,37.5 L17.5,34.4 Z" fill="#e8d84a"/>
<path d="M14.5,38.6 L11.0,39.7 L11.9,36.7 Z" fill="#e8d84a"/>
<path d="M8.3,40.4 L4.6,40.9 L6.0,38.1 Z" fill="#e8d84a"/>
<path d="M1.9,41.2 L-1.9,41.2 L0.0,38.6 Z" fill="#e8d84a"/>
<path d="M-4.6,40.9 L-8.3,40.4 L-6.0,38.1 Z" fill="#e8d84a"/>
<path d="M-11.0,39.7 L-14.5,38.6 L-11.9,36.7 Z" fill="#e8d84a"/>
<path d="M-17.0,37.5 L-20.3,35.8 L-17.5,34.4 Z" fill="#e8d84a"/>
<path d="M-22.7,34.4 L-25.7,32.2 L-22.7,31.2 Z" fill="#e8d84a"/>
<path d="M-27.8,30.4 L-30.4,27.8 L-27.3,27.3 Z" fill="#e8d84a"/>
<path d="M-32.2,25.7 L-34.4,22.7 L-31.2,22.7 Z" fill="#e8d84a"/>
<path d="M-35.8,20.3 L-37.5,17.0 L-34.4,17.5 Z" fill="#e8d84a"/>
<path d="M-38.6,14.5 L-39.7,11.0 L-36.7,11.9 Z" fill="#e8d84a"/>
<path d="M-40.4,8.3 L-40.9,4.6 L-38.1,6.0 Z" fill="#e8d84a"/>
<path d="M-41.2,1.9 L-41.2,-1.9 L-38.6,0.0 Z" fill="#e8d84a"/>
<path d="M-40.9,-4.6 L-40.4,-8.3 L-38.1,-6.0 Z" fill="#e8d84a"/>
<path d="M-39.7,-11.0 L-38.6,-14.5 L-36.7,-11.9 Z" fill="#e8d84a"/>
<path d="M-37.5,-17.0 L-35.8,-20.3 L-34.4,-17.5 Z" fill="#e8d84a"/>
<path d="M-34.4,-22.7 L-32.2,-25.7 L-31.2,-22.7 Z" fill="#e8d84a"/>
<path d="M-30.4,-27.8 L-27.8,-30.4 L-27.3,-27.3 Z" fill="#e8d84a"/>
<path d="M-25.7,-32.2 L-22.7,-34.4 L-22.7,-31.2 Z" fill="#e8d84a"/>
<path d="M-20.3,-35.8 L-17.0,-37.5 L-17.5,-34.4 Z" fill="#e8d84a"/>
<path d="M-14.5,-38.6 L-11.0,-39.7 L-11.9,-36.7 Z" fill="#e8d84a"/>
<path d="M-8.3,-40.4 L-4.6,-40.9 L-6.0,-38.1 Z" fill="#e8d84a"/>
<path d="M-1.9,-41.2 L1.9,-41.2 L-0.0,-38.6 Z" fill="#e8d84a"/>
<path d="M4.6,-40.9 L8.3,-40.4 L6.0,-38.1 Z" fill="#e8d84a"/>
<path d="M11.0,-39.7 L14.5,-38.6 L11.9,-36.7 Z" fill="#e8d84a"/>
<path d="M17.0,-37.5 L20.3,-35.8 L17.5,-34.4 Z" fill="#e8d84a"/>
<path d="M22.7,-34.4 L25.7,-32.2 L22.7,-31.2 Z" fill="#e8d84a"/>
<path d="M27.8,-30.4 L30.4,-27.8 L27.3,-27.3 Z" fill="#e8d84a"/>
<path d="M32.2,-25.7 L34.4,-22.7 L31.2,-22.7 Z" fill="#e8d84a"/>
<path d="M35.8,-20.3 L37.5,-17.0 L34.4,-17.5 Z" fill="#e8d84a"/>
<path d="M38.6,-14.5 L39.7,-11.0 L36.7,-11.9 Z" fill="#e8d84a"/>
<path d="M40.4,-8.3 L40.9,-4.6 L38.1,-6.0 Z" fill="#e8d84a"/>
<circle r="38" fill="url(#cg)"/>
<path d="M-5.5,10.9 q-1.3,3.6 -0.4,7.3" stroke="#1430a8" stroke-width="1.3" fill="none" opacity="0.85"/>
<path d="M20.2,13.6 q-0.9,4.3 -0.3,8.5" stroke="#2a6ae8" stroke-width="1.3" fill="none" opacity="0.85"/>
<path d="M-9.1,4.0 q-0.2,2.2 -0.1,4.5" stroke="#2a6ae8" stroke-width="1.3" fill="none" opacity="0.85"/>
<path d="M24.3,-8.3 q-1.3,3.5 -0.4,6.9" stroke="#000030" stroke-width="1.3" fill="none" opacity="0.85"/>
<path d="M13.5,4.4 q-1.1,3.4 -0.3,6.8" stroke="#000030" stroke-width="1.3" fill="none" opacity="0.85"/>
<path d="M7.0,8.9 q0.9,2.8 0.3,5.5" stroke="#1838b8" stroke-width="1.3" fill="none" opacity="0.85"/>
<path d="M19.1,14.5 q-1.2,2.5 -0.4,4.9" stroke="#2a6ae8" stroke-width="1.3" fill="none" opacity="0.85"/>
<path d="M-23.3,-10.0 q0.1,3.2 0.0,6.5" stroke="#00001a" stroke-width="1.3" fill="none" opacity="0.85"/>
<path d="M-33.1,7.3 q-0.8,2.9 -0.2,5.8" stroke="#1838b8" stroke-width="1.3" fill="none" opacity="0.85"/>
<path d="M-4.7,-14.1 q0.1,3.4 0.0,6.9" stroke="#00001a" stroke-width="1.3" fill="none" opacity="0.85"/>
<path d="M-2.1,-15.9 q-1.1,4.5 -0.3,8.9" stroke="#000030" stroke-width="1.3" fill="none" opacity="0.85"/>
<path d="M9.0,15.1 q-0.2,4.3 -0.1,8.7" stroke="#2a6ae8" stroke-width="1.3" fill="none" opacity="0.85"/>
<path d="M2.2,-23.9 q-0.6,4.2 -0.2,8.4" stroke="#00001a" stroke-width="1.3" fill="none" opacity="0.85"/>
<path d="M-20.1,-13.5 q1.0,3.1 0.3,6.3" stroke="#000030" stroke-width="1.3" fill="none" opacity="0.85"/>
<path d="M-26.2,4.3 q0.6,2.2 0.2,4.3" stroke="#00001a" stroke-width="1.3" fill="none" opacity="0.85"/>
<path d="M-4.1,18.4 q-1.4,3.7 -0.4,7.3" stroke="#00001a" stroke-width="1.3" fill="none" opacity="0.85"/>
<path d="M-15.4,19.8 q-0.8,3.2 -0.3,6.5" stroke="#000030" stroke-width="1.3" fill="none" opacity="0.85"/>
<path d="M10.3,10.8 q1.1,3.0 0.3,6.0" stroke="#2a6ae8" stroke-width="1.3" fill="none" opacity="0.85"/>
<path d="M9.7,16.6 q-1.1,2.7 -0.3,5.4" stroke="#000030" stroke-width="1.3" fill="none" opacity="0.85"/>
<path d="M10.4,-11.9 q-0.4,3.0 -0.1,6.1" stroke="#000030" stroke-width="1.3" fill="none" opacity="0.85"/>
<path d="M11.8,-3.2 q-0.8,2.4 -0.2,4.9" stroke="#3a8af0" stroke-width="1.3" fill="none" opacity="0.85"/>
<path d="M31.2,2.4 q-0.7,2.5 -0.2,4.9" stroke="#1838b8" stroke-width="1.3" fill="none" opacity="0.85"/>
<path d="M-16.0,8.9 q1.4,3.4 0.4,6.8" stroke="#1430a8" stroke-width="1.3" fill="none" opacity="0.85"/>
<path d="M25.1,-8.1 q-0.1,3.8 -0.0,7.7" stroke="#1430a8" stroke-width="1.3" fill="none" opacity="0.85"/>
<path d="M-15.0,12.0 q0.4,2.3 0.1,4.5" stroke="#1e50d8" stroke-width="1.3" fill="none" opacity="0.85"/>
<path d="M13.0,33.1 q-1.2,3.1 -0.4,6.2" stroke="#1e50d8" stroke-width="1.3" fill="none" opacity="0.85"/>
<path d="M19.1,14.3 q1.3,3.3 0.4,6.7" stroke="#1e50d8" stroke-width="1.3" fill="none" opacity="0.85"/>
<path d="M12.5,5.9 q0.4,2.9 0.1,5.9" stroke="#00001a" stroke-width="1.3" fill="none" opacity="0.85"/>
<path d="M-17.0,-12.8 q-0.0,2.3 -0.0,4.6" stroke="#00001a" stroke-width="1.3" fill="none" opacity="0.85"/>
<path d="M-16.6,2.1 q0.7,2.4 0.2,4.7" stroke="#000030" stroke-width="1.3" fill="none" opacity="0.85"/>
<path d="M-27.1,3.7 q-0.9,3.3 -0.3,6.6" stroke="#1430a8" stroke-width="1.3" fill="none" opacity="0.85"/>
<path d="M-17.6,20.9 q0.8,4.3 0.2,8.6" stroke="#000030" stroke-width="1.3" fill="none" opacity="0.85"/>
<path d="M31.9,-4.3 q-0.7,3.7 -0.2,7.5" stroke="#00001a" stroke-width="1.3" fill="none" opacity="0.85"/>
<path d="M15.1,-9.8 q0.1,2.6 0.0,5.1" stroke="#1430a8" stroke-width="1.3" fill="none" opacity="0.85"/>
<path d="M-6.8,12.5 q1.5,4.0 0.4,8.1" stroke="#3a8af0" stroke-width="1.3" fill="none" opacity="0.85"/>
<path d="M10.7,-29.0 q-0.8,3.8 -0.2,7.7" stroke="#1430a8" stroke-width="1.3" fill="none" opacity="0.85"/>
<path d="M-28.4,1.3 q0.9,4.5 0.3,8.9" stroke="#00001a" stroke-width="1.3" fill="none" opacity="0.85"/>
<path d="M-1.6,27.3 q-0.2,4.4 -0.0,8.8" stroke="#00001a" stroke-width="1.3" fill="none" opacity="0.85"/>
<path d="M17.5,-5.1 q-0.8,2.6 -0.2,5.1" stroke="#3a8af0" stroke-width="1.3" fill="none" opacity="0.85"/>
<path d="M-11.3,18.3 q0.3,4.5 0.1,8.9" stroke="#1e50d8" stroke-width="1.3" fill="none" opacity="0.85"/>
<path d="M-26.1,3.4 q-1.2,4.0 -0.4,8.0" stroke="#2a6ae8" stroke-width="1.3" fill="none" opacity="0.85"/>
<path d="M25.2,-16.1 q-0.1,3.9 -0.0,7.8" stroke="#1838b8" stroke-width="1.3" fill="none" opacity="0.85"/>
<path d="M-23.6,10.4 q1.3,2.2 0.4,4.4" stroke="#000030" stroke-width="1.3" fill="none" opacity="0.85"/>
<path d="M-28.0,6.6 q-1.0,2.2 -0.3,4.4" stroke="#1838b8" stroke-width="1.3" fill="none" opacity="0.85"/>
<path d="M24.2,4.2 q0.5,3.2 0.1,6.3" stroke="#00001a" stroke-width="1.3" fill="none" opacity="0.85"/>
<path d="M-9.8,-14.9 q-1.1,3.4 -0.3,6.7" stroke="#1e50d8" stroke-width="1.3" fill="none" opacity="0.85"/>
<path d="M8.6,-27.0 q0.7,2.3 0.2,4.5" stroke="#1838b8" stroke-width="1.3" fill="none" opacity="0.85"/>
<path d="M-29.6,13.1 q-0.9,4.1 -0.3,8.1" stroke="#000030" stroke-width="1.3" fill="none" opacity="0.85"/>
<path d="M5.1,21.4 q-0.5,3.9 -0.2,7.8" stroke="#1430a8" stroke-width="1.3" fill="none" opacity="0.85"/>
<path d="M-10.2,5.7 q-0.4,4.3 -0.1,8.6" stroke="#00001a" stroke-width="1.3" fill="none" opacity="0.85"/>
<path d="M-16.1,-26.3 q1.0,3.3 0.3,6.6" stroke="#1430a8" stroke-width="1.3" fill="none" opacity="0.85"/>
<path d="M8.3,9.0 q1.1,3.3 0.3,6.6" stroke="#1838b8" stroke-width="1.3" fill="none" opacity="0.85"/>
<path d="M-23.1,-18.7 q-1.1,2.4 -0.3,4.7" stroke="#2a6ae8" stroke-width="1.3" fill="none" opacity="0.85"/>
<path d="M-16.1,-6.0 q0.2,3.3 0.0,6.6" stroke="#2a6ae8" stroke-width="1.3" fill="none" opacity="0.85"/>
<path d="M7.1,-6.4 q-1.4,2.5 -0.4,5.0" stroke="#2a6ae8" stroke-width="1.3" fill="none" opacity="0.85"/>
<path d="M-23.7,-1.1 q1.2,3.9 0.4,7.8" stroke="#00001a" stroke-width="1.3" fill="none" opacity="0.85"/>
<path d="M-16.1,31.3 q-0.9,3.5 -0.3,7.0" stroke="#000030" stroke-width="1.3" fill="none" opacity="0.85"/>
<path d="M-21.9,6.8 q1.3,3.2 0.4,6.4" stroke="#1430a8" stroke-width="1.3" fill="none" opacity="0.85"/>
<path d="M24.5,-24.1 q0.2,2.6 0.1,5.3" stroke="#3a8af0" stroke-width="1.3" fill="none" opacity="0.85"/>
<path d="M6.3,-10.0 q-0.2,2.3 -0.1,4.6" stroke="#2a6ae8" stroke-width="1.3" fill="none" opacity="0.85"/>
<path d="M-9.5,-17.6 q-0.6,2.5 -0.2,5.1" stroke="#2a6ae8" stroke-width="1.3" fill="none" opacity="0.85"/>
<path d="M9.8,-7.4 q0.5,3.8 0.1,7.6" stroke="#1838b8" stroke-width="1.3" fill="none" opacity="0.85"/>
<path d="M-0.2,11.8 q0.7,3.2 0.2,6.3" stroke="#2a6ae8" stroke-width="1.3" fill="none" opacity="0.85"/>
<path d="M-17.4,12.9 q1.0,4.5 0.3,8.9" stroke="#1838b8" stroke-width="1.3" fill="none" opacity="0.85"/>
<path d="M-9.7,-34.5 q-0.2,3.0 -0.1,6.0" stroke="#00001a" stroke-width="1.3" fill="none" opacity="0.85"/>
<path d="M-11.8,25.6 q0.2,2.0 0.0,4.1" stroke="#00001a" stroke-width="1.3" fill="none" opacity="0.85"/>
<path d="M-5.4,-18.0 q-0.6,3.3 -0.2,6.6" stroke="#2a6ae8" stroke-width="1.3" fill="none" opacity="0.85"/>
<path d="M25.6,22.0 q1.1,2.6 0.3,5.1" stroke="#2a6ae8" stroke-width="1.3" fill="none" opacity="0.85"/>
<path d="M-0.9,9.1 q-0.7,3.9 -0.2,7.9" stroke="#1838b8" stroke-width="1.3" fill="none" opacity="0.85"/>
<path d="M13.5,-28.8 q1.3,3.7 0.4,7.4" stroke="#000030" stroke-width="1.3" fill="none" opacity="0.85"/>
<path d="M19.9,27.2 q0.6,3.4 0.2,6.9" stroke="#2a6ae8" stroke-width="1.3" fill="none" opacity="0.85"/>
<path d="M-5.5,29.9 q1.2,2.5 0.4,4.9" stroke="#000030" stroke-width="1.3" fill="none" opacity="0.85"/>
<path d="M23.9,-9.7 q-1.2,4.0 -0.4,8.0" stroke="#3a8af0" stroke-width="1.3" fill="none" opacity="0.85"/>
<path d="M29.4,13.1 q-0.5,3.1 -0.1,6.3" stroke="#1430a8" stroke-width="1.3" fill="none" opacity="0.85"/>
<path d="M-29.2,16.6 q-1.4,3.6 -0.4,7.1" stroke="#3a8af0" stroke-width="1.3" fill="none" opacity="0.85"/>
<path d="M32.5,-13.3 q-1.0,2.7 -0.3,5.3" stroke="#000030" stroke-width="1.3" fill="none" opacity="0.85"/>
<path d="M-15.8,-16.5 q-0.2,2.5 -0.0,5.0" stroke="#1838b8" stroke-width="1.3" fill="none" opacity="0.85"/>
<path d="M-3.9,30.2 q-1.4,4.5 -0.4,9.0" stroke="#1e50d8" stroke-width="1.3" fill="none" opacity="0.85"/>
<path d="M-2.5,-23.3 q-0.1,2.5 -0.0,4.9" stroke="#00001a" stroke-width="1.3" fill="none" opacity="0.85"/>
<path d="M24.3,19.2 q-0.0,3.1 -0.0,6.2" stroke="#000030" stroke-width="1.3" fill="none" opacity="0.85"/>
<path d="M16.3,-3.1 q-0.8,2.5 -0.2,5.1" stroke="#3a8af0" stroke-width="1.3" fill="none" opacity="0.85"/>
<path d="M13.7,-24.2 q-0.3,3.6 -0.1,7.2" stroke="#00001a" stroke-width="1.3" fill="none" opacity="0.85"/>
<path d="M31.2,-3.6 q0.4,2.0 0.1,4.1" stroke="#000030" stroke-width="1.3" fill="none" opacity="0.85"/>
<path d="M-8.7,4.0 q-0.4,3.7 -0.1,7.3" stroke="#1430a8" stroke-width="1.3" fill="none" opacity="0.85"/>
<path d="M-7.6,-14.0 q-0.6,2.6 -0.2,5.2" stroke="#00001a" stroke-width="1.3" fill="none" opacity="0.85"/>
<path d="M6.1,14.3 q-0.4,2.0 -0.1,4.0" stroke="#00001a" stroke-width="1.3" fill="none" opacity="0.85"/>
<path d="M23.0,-4.0 q1.4,2.6 0.4,5.2" stroke="#000030" stroke-width="1.3" fill="none" opacity="0.85"/>
<path d="M2.6,12.9 q-1.2,2.8 -0.4,5.7" stroke="#000030" stroke-width="1.3" fill="none" opacity="0.85"/>
<path d="M-13.6,-0.2 q-1.5,3.3 -0.4,6.5" stroke="#000030" stroke-width="1.3" fill="none" opacity="0.85"/>
<path d="M4.9,-11.0 q-0.3,3.5 -0.1,6.9" stroke="#000030" stroke-width="1.3" fill="none" opacity="0.85"/>
<path d="M-4.9,13.7 q0.1,3.5 0.0,6.9" stroke="#1838b8" stroke-width="1.3" fill="none" opacity="0.85"/>
<path d="M-15.4,-23.4 q-0.3,4.2 -0.1,8.4" stroke="#00001a" stroke-width="1.3" fill="none" opacity="0.85"/>
<path d="M-4.0,-21.5 q0.4,2.7 0.1,5.4" stroke="#1838b8" stroke-width="1.3" fill="none" opacity="0.85"/>
<path d="M30.2,8.5 q0.4,4.2 0.1,8.5" stroke="#1430a8" stroke-width="1.3" fill="none" opacity="0.85"/>
<path d="M14.5,17.4 q1.0,3.3 0.3,6.5" stroke="#1e50d8" stroke-width="1.3" fill="none" opacity="0.85"/>
<path d="M11.2,-21.6 q0.5,4.2 0.2,8.5" stroke="#3a8af0" stroke-width="1.3" fill="none" opacity="0.85"/>
<path d="M7.9,4.7 q1.4,3.6 0.4,7.2" stroke="#000030" stroke-width="1.3" fill="none" opacity="0.85"/>
<path d="M12.1,-20.3 q0.4,3.6 0.1,7.1" stroke="#3a8af0" stroke-width="1.3" fill="none" opacity="0.85"/>
<path d="M-8.1,0.5 q0.7,4.0 0.2,8.0" stroke="#1430a8" stroke-width="1.3" fill="none" opacity="0.85"/>
<path d="M8.5,-6.3 q0.7,3.3 0.2,6.6" stroke="#00001a" stroke-width="1.3" fill="none" opacity="0.85"/>
<path d="M-0.1,10.1 q0.7,2.7 0.2,5.3" stroke="#3a8af0" stroke-width="1.3" fill="none" opacity="0.85"/>
<path d="M3.2,26.0 q1.0,3.2 0.3,6.3" stroke="#2a6ae8" stroke-width="1.3" fill="none" opacity="0.85"/>
<path d="M-26.9,3.6 q0.4,3.9 0.1,7.8" stroke="#3a8af0" stroke-width="1.3" fill="none" opacity="0.85"/>
<path d="M10.7,5.7 q0.7,2.6 0.2,5.3" stroke="#000030" stroke-width="1.3" fill="none" opacity="0.85"/>
<path d="M-8.5,-8.1 q-0.0,3.2 -0.0,6.4" stroke="#2a6ae8" stroke-width="1.3" fill="none" opacity="0.85"/>
<path d="M-9.6,-25.2 q0.0,2.7 0.0,5.5" stroke="#00001a" stroke-width="1.3" fill="none" opacity="0.85"/>
<path d="M-28.8,6.3 q0.1,4.5 0.0,9.0" stroke="#000030" stroke-width="1.3" fill="none" opacity="0.85"/>
<path d="M33.9,-4.7 q-0.1,2.0 -0.0,4.1" stroke="#1430a8" stroke-width="1.3" fill="none" opacity="0.85"/>
<path d="M20.2,-4.1 q-0.9,2.7 -0.3,5.3" stroke="#3a8af0" stroke-width="1.3" fill="none" opacity="0.85"/>
<path d="M9.4,4.8 q-0.7,3.9 -0.2,7.7" stroke="#00001a" stroke-width="1.3" fill="none" opacity="0.85"/>
<path d="M11.5,-27.7 L1.5,-9.9 L0,0 L5.9,-8.1 Z" fill="#8a40c0"/>
<path d="M27.7,-11.5 L8.1,-5.9 L0,0 L9.9,-1.5 Z" fill="#8a40c0"/>
<path d="M27.7,11.5 L9.9,1.5 L0,0 L8.1,5.9 Z" fill="#8a40c0"/>
<path d="M11.5,27.7 L5.9,8.1 L0,0 L1.5,9.9 Z" fill="#8a40c0"/>
<path d="M-11.5,27.7 L-1.5,9.9 L0,0 L-5.9,8.1 Z" fill="#8a40c0"/>
<path d="M-27.7,11.5 L-8.1,5.9 L0,0 L-9.9,1.5 Z" fill="#8a40c0"/>
<path d="M-27.7,-11.5 L-9.9,-1.5 L0,0 L-8.1,-5.9 Z" fill="#8a40c0"/>
<path d="M-11.5,-27.7 L-5.9,-8.1 L0,0 L-1.5,-9.9 Z" fill="#8a40c0"/>
<path d="M27.6,-27.6 L3.4,-8.3 L0,0 Z" fill="#828282" stroke="#333" stroke-width="0.4"/>
<path d="M27.6,-27.6 L8.3,-3.4 L0,0 Z" fill="#a87430" stroke="#333" stroke-width="0.4"/>
<path d="M27.6,27.6 L8.3,3.4 L0,0 Z" fill="#a0a0a0" stroke="#333" stroke-width="0.4"/>
<path d="M27.6,27.6 L3.4,8.3 L0,0 Z" fill="#686868" stroke="#333" stroke-width="0.4"/>
<path d="M-27.6,27.6 L-3.4,8.3 L0,0 Z" fill="#a87430" stroke="#333" stroke-width="0.4"/>
<path d="M-27.6,27.6 L-8.3,3.4 L0,0 Z" fill="#828282" stroke="#333" stroke-width="0.4"/>
<path d="M-27.6,-27.6 L-8.3,-3.4 L0,0 Z" fill="#686868" stroke="#333" stroke-width="0.4"/>
<path d="M-27.6,-27.6 L-3.4,-8.3 L0,0 Z" fill="#a0a0a0" stroke="#333" stroke-width="0.4"/>
<path d="M0.0,-37.0 L-4.3,-9.0 L0,0 Z" fill="#8a7260" stroke="#333" stroke-width="0.4"/>
<path d="M0.0,-37.0 L4.3,-9.0 L0,0 Z" fill="#a87430" stroke="#333" stroke-width="0.4"/>
<path d="M38.0,-0.0 L9.0,-4.3 L0,0 Z" fill="#828282" stroke="#333" stroke-width="0.4"/>
<path d="M38.0,-0.0 L9.0,4.3 L0,0 Z" fill="#a87430" stroke="#333" stroke-width="0.4"/>
<path d="M0.0,37.0 L4.3,9.0 L0,0 Z" fill="#a87430" stroke="#333" stroke-width="0.4"/>
<path d="M0.0,37.0 L-4.3,9.0 L0,0 Z" fill="#828282" stroke="#333" stroke-width="0.4"/>
<path d="M-38.0,0.0 L-9.0,4.3 L0,0 Z" fill="#828282" stroke="#333" stroke-width="0.4"/>
<path d="M-38.0,0.0 L-9.0,-4.3 L0,0 Z" fill="#a87430" stroke="#333" stroke-width="0.4"/>
<circle r="1" fill="#222"/>
</g>
<g id="keypanel">
<rect x="18" y="850" width="332" height="92" fill="#ffcccc" stroke="#000" stroke-width="4"/>
<path d="M20,876 L60,876 Q64,876 64.5,872 L65.5,861 Q66,856 71,856 L203,856 Q208,856 208.5,861 L209,871 Q209.5,876 214,876 L348,876 L348,940 L20,940 Z" fill="#ccffff"/>
<text x="23" y="872.2" font-family="'Liberation Sans',sans-serif" font-size="23" fill="#0000ff" textLength="37" lengthAdjust="spacingAndGlyphs">KEY</text>
<rect x="90" y="860" width="16" height="16" fill="#ffffcc"/>
<circle cx="98" cy="868" r="7" fill="#ffffcc" stroke="#000" stroke-width="2"/>
<text x="109.5" y="871.5" font-family="'DejaVu Sans','Liberation Sans',sans-serif" font-size="10" fill="#000" textLength="84" lengthAdjust="spacingAndGlyphs">Exits Randomized</text>
<rect x="25.5" y="881.5" width="13" height="13" fill="#ffffcc" stroke="#006600" stroke-width="3"/>
<rect x="24.5" y="880.5" width="15" height="15" fill="none" stroke="#000" stroke-width="1"/>
<text x="43.5" y="891.7" font-family="'DejaVu Sans','Liberation Sans',sans-serif" font-size="10" fill="#000" textLength="23.5" lengthAdjust="spacingAndGlyphs">Safe</text>
<rect x="25.5" y="901.5" width="13" height="13" fill="#ffffcc" stroke="#808000" stroke-width="3"/>
<rect x="24.5" y="900.5" width="15" height="15" fill="none" stroke="#000" stroke-width="1"/>
<text x="43.5" y="911.7" font-family="'DejaVu Sans','Liberation Sans',sans-serif" font-size="10" fill="#000" textLength="37.5" lengthAdjust="spacingAndGlyphs">Private</text>
<rect x="25.5" y="921.5" width="13" height="13" fill="#ffffcc" stroke="#800000" stroke-width="3"/>
<rect x="24.5" y="920.5" width="15" height="15" fill="none" stroke="#000" stroke-width="1"/>
<text x="43.5" y="931.7" font-family="'DejaVu Sans','Liberation Sans',sans-serif" font-size="10" fill="#000" textLength="35" lengthAdjust="spacingAndGlyphs">Cursed</text>
<rect x="91" y="881" width="14" height="14" fill="#00ff00" stroke="#000" stroke-width="2"/>
<text x="109.5" y="891.7" font-family="'DejaVu Sans','Liberation Sans',sans-serif" font-size="10" fill="#000" textLength="23.5" lengthAdjust="spacingAndGlyphs">Land</text>
<rect x="91" y="901" width="14" height="14" fill="#00ffff" stroke="#000" stroke-width="2"/>
<text x="109.5" y="911.7" font-family="'DejaVu Sans','Liberation Sans',sans-serif" font-size="10" fill="#000" textLength="30" lengthAdjust="spacingAndGlyphs">Water</text>
<rect x="91" y="921" width="14" height="14" fill="#ffffff" stroke="#000" stroke-width="2"/>
<text x="109.5" y="931.7" font-family="'DejaVu Sans','Liberation Sans',sans-serif" font-size="10" fill="#000" textLength="13" lengthAdjust="spacingAndGlyphs">Air</text>
<rect x="148" y="880" width="16" height="16" fill="#ffffcc"/>
<path d="M155.7,880 L155.7,886.7 M148.3,886.7 L155.7,886.7" stroke="#000" stroke-width="2" fill="none"/>
<path d="M155.7,886.7 L163.2,895" stroke="#000" stroke-width="2.4" fill="none"/>
<text x="167.5" y="891.7" font-family="'DejaVu Sans','Liberation Sans',sans-serif" font-size="10" fill="#000" textLength="36" lengthAdjust="spacingAndGlyphs">Exit: Up</text>
<rect x="148" y="900" width="16" height="16" fill="#ffffcc"/>
<path d="M155.7,900 L155.7,906.7 M148.3,906.7 L155.7,906.7" stroke="#000" stroke-width="2" fill="none"/>
<path d="M155.7,906.7 L163.2,915" stroke="#000" stroke-width="3.2" fill="none"/>
<path d="M156.89999999999998,908.0 L162.6,914.4" stroke="#fff" stroke-width="1.2" fill="none"/>
<text x="167.5" y="911.7" font-family="'DejaVu Sans','Liberation Sans',sans-serif" font-size="10" fill="#000" textLength="47.5" lengthAdjust="spacingAndGlyphs">Exit: Down</text>
<rect x="148" y="920" width="16" height="16" fill="#ffffcc"/>
<path d="M155.7,920 L155.7,926.7 M148.3,926.7 L155.7,926.7" stroke="#000" stroke-width="2" fill="none"/>
<path d="M155.7,926.7 L163.2,935" stroke="#993300" stroke-width="2.4" fill="none"/>
<text x="167.5" y="931.7" font-family="'DejaVu Sans','Liberation Sans',sans-serif" font-size="10" fill="#000" textLength="58" lengthAdjust="spacingAndGlyphs">Exit: Magical</text>
<rect x="234" y="880" width="16" height="16" fill="#ffffcc"/>
<path d="M234.5,888 L249.5,888" stroke="#000" stroke-width="2" fill="none"/>
<rect x="240.7" y="884" width="2" height="8" fill="#000"/>
<text x="253.8" y="891.7" font-family="'DejaVu Sans','Liberation Sans',sans-serif" font-size="10" fill="#000" textLength="89.5" lengthAdjust="spacingAndGlyphs">Door without Lock</text>
<rect x="234" y="900" width="16" height="16" fill="#ffffcc"/>
<path d="M234.5,908 L249.5,908" stroke="#000" stroke-width="2" fill="none"/>
<rect x="240.7" y="904" width="2" height="8" fill="#ff00ff"/>
<text x="253.8" y="911.7" font-family="'DejaVu Sans','Liberation Sans',sans-serif" font-size="10" fill="#000" textLength="71.5" lengthAdjust="spacingAndGlyphs">Door with Lock</text>
<rect x="234" y="920" width="16" height="16" fill="#ffffcc"/>
<path d="M234.5,928 L246,928" stroke="#000" stroke-width="2" fill="none"/>
<path d="M244.5,924 L250,928 L244.5,932 Z" fill="#000"/>
<text x="253.8" y="931.7" font-family="'DejaVu Sans','Liberation Sans',sans-serif" font-size="10" fill="#000" textLength="61.5" lengthAdjust="spacingAndGlyphs">One-Way Only</text>
<text x="242.5" y="863" font-family="'DejaVu Sans','Liberation Sans',sans-serif" font-size="9" fill="#0000ff" textLength="102" lengthAdjust="spacingAndGlyphs">map created 2006 by</text>
<text x="242.5" y="872" font-family="'DejaVu Sans','Liberation Sans',sans-serif" font-size="9" fill="#0000ff" textLength="102" lengthAdjust="spacingAndGlyphs">David Edward Garber</text>
<g stroke="#0000ff" stroke-width="1.2" fill="none">
<path d="M214.2,856.7 L227.2,856.7 L227.2,867.8 M215.5,859.5 L215.5,867.8"/>
<circle cx="214.1" cy="858.1" r="1.4"/>
<path d="M214.5,867.8 L227.5,867.8 Q229.2,868 229.2,869.7 Q229.2,871.4 227.5,871.4 L214.5,871.4 Q213,871.2 213,869.6 Q213,868 214.5,867.8 Z M216.8,868 L216.8,871.2"/>
<path d="M217.2,858.2 L225.3,858.2 L225.3,865.6 L217.2,865.6 Z" stroke-width="1"/>
<path d="M218.5,860.3 L224,860.3 M218,862.8 L224.5,862.8 M220,859.3 L219,864.6 M223,859.2 L222.2,864.8" stroke-width="1.3"/>
<path d="M238.3,856.8 Q233.8,860.5 232.5,867.2" stroke-width="1.3"/>
<path d="M237.6,858.6 Q237.3,862 234.4,865.2" stroke-width="0.9" stroke="#6a7aff"/>
</g>
<path d="M230,871.6 L235.6,871.6 Q235.3,869.6 234.2,869.2 L234,867.6 L231.6,867.6 L231.4,869.2 Q230.3,869.6 230,871.6 Z" fill="#000080"/>
</g>
<g id="poipanel">
<rect x="370" y="850" width="332" height="92" fill="#ffcccc" stroke="#000" stroke-width="4"/>
<path d="M372,876 L428,876 Q432,876 432.3,872 L432.8,858 Q433.2,852 438,852 L682,852 Q686,852 686.3,856 L686.7,871 Q687,876 691,876 L700,876 L700,940 L540.5,940 L540.5,883 Q540.5,879 536.4,879 Q532.3,879 532.3,883 L532.3,940 L372,940 Z" fill="#ccffff"/>
<text x="375.5" y="862.5" font-family="'DejaVu Sans Mono','Liberation Mono',monospace" font-size="8.6" fill="#0000ff" textLength="52.5" lengthAdjust="spacing">Points of</text>
<text x="375.5" y="871.8" font-family="'DejaVu Sans Mono','Liberation Mono',monospace" font-size="8.6" fill="#0000ff" textLength="52" lengthAdjust="spacing">Interest</text>
<rect x="436.3" y="856.7" width="7" height="7" fill="#ffffcc"/>
<path d="M439.8,857.5 L439.8,863 M437,860.2 L442.6,860.2" stroke="#800000" stroke-width="2" fill="none"/>
<text x="446.5" y="863.5" font-family="'Liberation Mono','DejaVu Sans Mono',monospace" font-size="11" fill="#000" textLength="35.1" lengthAdjust="spacingAndGlyphs">Healer</text>
<rect x="488.2" y="856.5" width="6.5" height="7.5" fill="#ffffcc"/>
<path d="M489.2,857.5 L493.7,857.5 L493.7,861 L491.5,863.5 L489.2,861 Z" fill="none" stroke="#cc6600" stroke-width="1.1"/><rect x="490.6" y="858.6" width="1.8" height="1.8" fill="#800000"/>
<text x="497" y="863.5" font-family="'Liberation Mono','DejaVu Sans Mono',monospace" font-size="11" fill="#000" textLength="40.9" lengthAdjust="spacingAndGlyphs">Trainer</text>
<rect x="544.5" y="857" width="7" height="7" fill="#ffffcc"/>
<path d="M545.5,859 L550.5,859 M545.5,862 L550.5,862" stroke="#808000" stroke-width="1.6" fill="none"/><path d="M549.5,857.2 L551.6,859 L549.5,860.8 Z M546.5,860.2 L544.4,862 L546.5,863.8 Z" fill="#808000"/>
<text x="554.3" y="863.5" font-family="'Liberation Mono','DejaVu Sans Mono',monospace" font-size="11" fill="#000" textLength="70.2" lengthAdjust="spacingAndGlyphs">Shop(keeper)</text>
<rect x="630" y="856.5" width="6.5" height="7.5" fill="#ffffcc"/>
<text x="633.2" y="863.5" text-anchor="middle" font-family="'DejaVu Sans','Liberation Sans',sans-serif" font-weight="bold" font-size="8.5" fill="#008000">$</text>
<text x="637.5" y="863.5" font-family="'Liberation Mono','DejaVu Sans Mono',monospace" font-size="11" fill="#000" textLength="46.8" lengthAdjust="spacingAndGlyphs">Bank(er)</text>
<path d="M442.5,874.5 L450,874.5 L449,872.5 L447.5,872 L447.5,870.5 Q450.5,870.5 450,868.5 Q448.5,867.2 446.2,867.2 Q444,867.2 442.5,868.5 Q442,870.5 445,870.5 L445,872 L443.5,872.5 Z" fill="#000080"/>
<text x="452.5" y="875.3" font-family="'Liberation Mono','DejaVu Sans Mono',monospace" font-size="11" fill="#000" textLength="46.8" lengthAdjust="spacingAndGlyphs">Fountain</text>
<rect x="510" y="867.5" width="8" height="7" fill="#ffffcc"/>
<circle cx="512.5" cy="871" r="1.7" fill="none" stroke="#800080" stroke-width="1.3"/><path d="M514,871 L517.8,871 M516.3,871 L516.3,873" stroke="#800080" stroke-width="1.3" fill="none"/>
<text x="520" y="875.3" font-family="'Liberation Mono','DejaVu Sans Mono',monospace" font-size="11" fill="#000" textLength="17.5" lengthAdjust="spacingAndGlyphs">Key</text>
<rect x="549.5" y="867.5" width="6.5" height="8" fill="#ffffcc"/>
<text x="552.8" y="875" text-anchor="middle" font-family="'DejaVu Sans','Liberation Sans',sans-serif" font-weight="bold" font-size="9" fill="#808080">?</text>
<text x="558.8" y="875.3" font-family="'Liberation Mono','DejaVu Sans Mono',monospace" font-size="11" fill="#000" textLength="117.0" lengthAdjust="spacingAndGlyphs">Quest Character/Item</text>
<text x="693.3" y="862" text-anchor="middle" font-family="'DejaVu Sans','Liberation Sans',sans-serif" font-size="9" fill="#0000ff">N</text>
<path d="M693.3,863 L693.3,867.5 M690.5,865 L696,865 M693.3,867.2 L696.5,870.5 L693.3,873.8 L690.1,870.5 Z" fill="none" stroke="#0000ff" stroke-width="1.3"/>
<rect x="376.2" y="880.5" width="6.6" height="7.6" fill="#00ff00"/>
<text x="379.5" y="887.7" text-anchor="middle" font-family="'DejaVu Sans','Liberation Sans',sans-serif" font-weight="bold" font-size="8.5" fill="#000">0</text>
<text x="387.5" y="887.5" font-family="'Liberation Mono','DejaVu Sans Mono',monospace" font-size="11.5" fill="#000" textLength="69.3" lengthAdjust="spacingAndGlyphs">drow guard</text>
<rect x="376.2" y="892.5" width="6.6" height="7.6" fill="#00ff00"/>
<text x="379.5" y="899.7" text-anchor="middle" font-family="'DejaVu Sans','Liberation Sans',sans-serif" font-weight="bold" font-size="8.5" fill="#800080">1</text>
<text x="387.5" y="899.5" font-family="'Liberation Mono','DejaVu Sans Mono',monospace" font-size="11.5" fill="#800080" textLength="48.5" lengthAdjust="spacingAndGlyphs">doorman</text>
<rect x="376.2" y="904.5" width="6.6" height="7.6" fill="#00ff00"/>
<text x="379.5" y="911.7" text-anchor="middle" font-family="'DejaVu Sans','Liberation Sans',sans-serif" font-weight="bold" font-size="8.5" fill="#800080">2</text>
<text x="387.5" y="911.5" font-family="'Liberation Mono','DejaVu Sans Mono',monospace" font-size="11.5" fill="#800080" textLength="41.6" lengthAdjust="spacingAndGlyphs">jailer</text>
<rect x="376.2" y="916.5" width="6.6" height="7.6" fill="#00ff00"/>
<text x="379.5" y="923.7" text-anchor="middle" font-family="'DejaVu Sans','Liberation Sans',sans-serif" font-weight="bold" font-size="8.5" fill="#800080">3</text>
<text x="387.5" y="923.5" font-family="'Liberation Mono','DejaVu Sans Mono',monospace" font-size="11.5" fill="#800080" textLength="55.4" lengthAdjust="spacingAndGlyphs">jail key</text>
<rect x="376.2" y="928.5" width="6.6" height="7.6" fill="#00ff00"/>
<text x="379.5" y="935.7" text-anchor="middle" font-family="'DejaVu Sans','Liberation Sans',sans-serif" font-weight="bold" font-size="8.5" fill="#800080">4</text>
<text x="387.5" y="935.5" font-family="'Liberation Mono','DejaVu Sans Mono',monospace" font-size="11.5" fill="#800080" textLength="69.3" lengthAdjust="spacingAndGlyphs">bronze key</text>
<circle cx="536.4" cy="885.9" r="1.8" fill="#0000ff"/>
<rect x="544.6" y="880.5" width="6.6" height="7.6" fill="#00ff00"/>
<text x="547.9" y="887.7" text-anchor="middle" font-family="'DejaVu Sans','Liberation Sans',sans-serif" font-weight="bold" font-size="8.5" fill="#800080">5</text>
<text x="555.8" y="887.5" font-family="'Liberation Mono','DejaVu Sans Mono',monospace" font-size="11.5" fill="#800080" textLength="76.2" lengthAdjust="spacingAndGlyphs">drow cleric</text>
<circle cx="536.4" cy="897.9" r="1.8" fill="#0000ff"/>
<rect x="544.6" y="892.5" width="6.6" height="7.6" fill="#00ff00"/>
<text x="547.9" y="899.7" text-anchor="middle" font-family="'DejaVu Sans','Liberation Sans',sans-serif" font-weight="bold" font-size="8.5" fill="#800080">6</text>
<text x="555.8" y="899.5" font-family="'Liberation Mono','DejaVu Sans Mono',monospace" font-size="11.5" fill="#800080" textLength="103.9" lengthAdjust="spacingAndGlyphs">drow psionicist</text>
<circle cx="536.4" cy="909.9" r="1.8" fill="#0000ff"/>
<rect x="544.6" y="904.5" width="6.6" height="7.6" fill="#00ff00"/>
<text x="547.9" y="911.7" text-anchor="middle" font-family="'DejaVu Sans','Liberation Sans',sans-serif" font-weight="bold" font-size="8.5" fill="#800080">7</text>
<text x="555.8" y="911.5" font-family="'Liberation Mono','DejaVu Sans Mono',monospace" font-size="11.5" fill="#800080" textLength="62.4" lengthAdjust="spacingAndGlyphs">drow mage</text>
<circle cx="536.4" cy="921.9" r="1.8" fill="#0000ff"/>
<rect x="544.6" y="916.5" width="6.6" height="7.6" fill="#00ff00"/>
<text x="547.9" y="923.7" text-anchor="middle" font-family="'DejaVu Sans','Liberation Sans',sans-serif" font-weight="bold" font-size="8.5" fill="#000">8</text>
<text x="555.8" y="923.5" font-family="'Liberation Mono','DejaVu Sans Mono',monospace" font-size="11.5" fill="#000" textLength="62.4" lengthAdjust="spacingAndGlyphs">arch mage</text>
<circle cx="536.4" cy="933.9" r="1.8" fill="#0000ff"/>
<rect x="544.6" y="928.5" width="6.6" height="7.6" fill="#00ff00"/>
<text x="547.9" y="935.7" text-anchor="middle" font-family="'DejaVu Sans','Liberation Sans',sans-serif" font-weight="bold" font-size="8.5" fill="#000">9</text>
<text x="555.8" y="935.5" font-family="'Liberation Mono','DejaVu Sans Mono',monospace" font-size="11.5" fill="#000" textLength="83.2" lengthAdjust="spacingAndGlyphs">Ancient Drow</text>
</g>
</svg>
</body></html>
